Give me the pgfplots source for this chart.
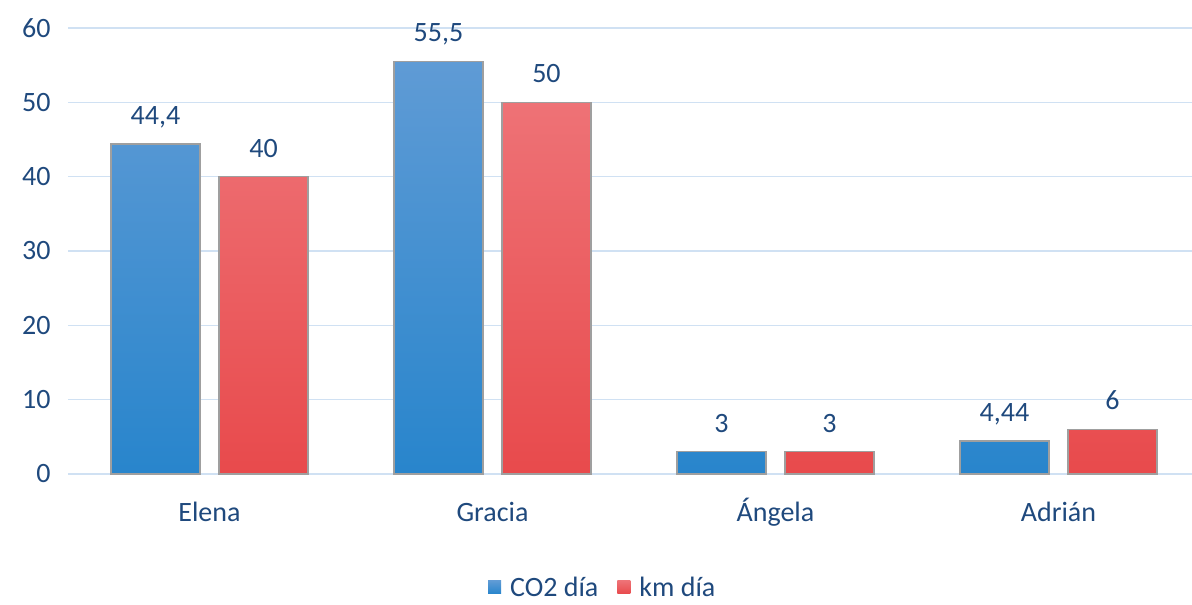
\documentclass[border=0pt]{standalone}
\usepackage{fontspec}
\setmainfont{Carlito}
\usepackage{pgfplots}
\pgfplotsset{compat=1.18}
\definecolor{txt}{RGB}{31,73,125}
\definecolor{gridc}{RGB}{208,225,243}
\definecolor{btop}{RGB}{95,155,213}
\definecolor{bbot}{RGB}{40,133,204}
\definecolor{rtop}{RGB}{238,114,118}
\definecolor{rbot}{RGB}{232,74,76}
\begin{document}
\begin{tikzpicture}[font=\fontsize{28}{32}\selectfont]
\useasboundingbox (-68pt,-131pt) rectangle (1124pt,474pt);
\begin{axis}[
  at={(0pt,0pt)}, anchor=south west,
  scale only axis,
  width=1132pt, height=446pt,
  ybar=19pt, bar width=89pt,
  xmin=-0.5, xmax=3.5,
  ymin=0, ymax=60,
  ytick={0,10,...,60},
  xtick=data,
  xticklabels={Elena,Gracia,Ángela,Adrián},
  axis line style={draw=none},
  major tick length=0pt,
  ymajorgrids, grid style={gridc, line width=1.5pt},
  /pgf/number format/assume math mode=true,
  tick label style={text=txt, font=\fontsize{28}{32}\selectfont},
  yticklabel style={xshift=-14pt},
  xticklabel style={anchor=base, yshift=-47pt},
  nodes near coords,
  point meta=explicit symbolic,
  every node near coord/.append style={anchor=base, yshift=19.5pt, text=txt, font=\fontsize{28}{32}\selectfont},
  legend columns=2,
  legend style={at={(0.472,-0.255)}, anchor=center, draw=none, fill=none, inner sep=0pt, text=txt, font=\fontsize{28}{32}\selectfont,
    nodes={inner sep=1pt},
    /tikz/every even column/.append style={column sep=18pt}},
  legend image code/.code={\path[#1, draw=none] (0pt,-6pt) rectangle (13pt,7pt);},
  clip=false,
]
\addplot[draw=gray!75, line width=1.2pt, top color=btop, bottom color=bbot] coordinates {(0,44.4) [44,4] (1,55.5) [55,5] (2,3) [3] (3,4.44) [4,44]};
\addplot[draw=gray!75, line width=1.2pt, top color=rtop, bottom color=rbot] coordinates {(0,40) [40] (1,50) [50] (2,3) [3] (3,6) [6]};
\legend{\hspace{8pt}CO2 día, \hspace{8pt}km día}
\end{axis}
\end{tikzpicture}
\end{document}
